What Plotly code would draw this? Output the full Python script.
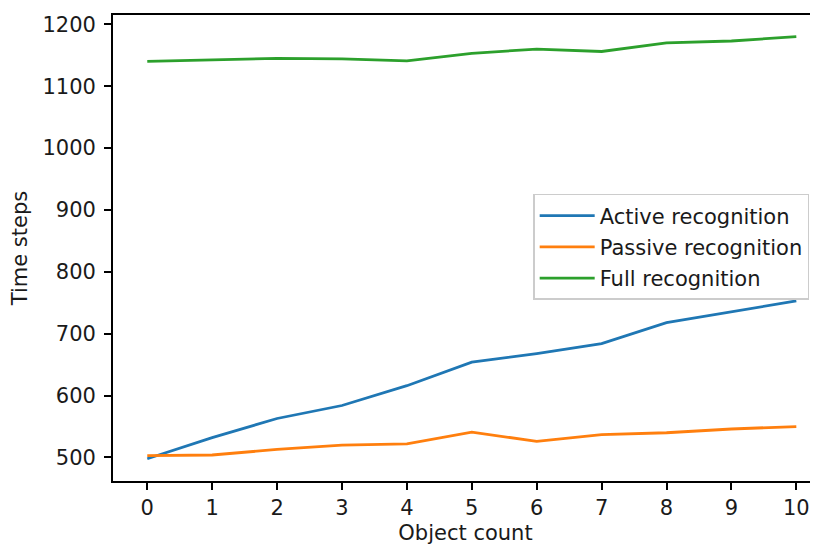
import plotly.graph_objects as go

object_count = [0, 1, 2, 3, 4, 5, 6, 7, 8, 9, 10]
active = [498, 532, 563, 584, 616, 654, 668, 684, 718, 736, 753]
passive = [503, 504, 513, 520, 522, 541, 526, 537, 540, 546, 550]
full = [1140, 1143, 1145, 1144, 1141, 1153, 1160, 1156, 1170, 1173, 1180]
series_names = ["Active recognition", "Passive recognition", "Full recognition"]
series_colors = ["#1f77b4", "#ff7f0e", "#2ca02c"]
y_ticks = [500, 600, 700, 800, 900, 1000, 1100, 1200]

FONT = "DejaVu Sans"
fig = go.Figure()
for i, (name, vals, col) in enumerate(zip(series_names, [active, passive, full], series_colors)):
    fig.add_trace(go.Scatter(x=object_count, y=vals, mode="lines", name=name,
                             line=dict(color=col, width=2.8), legendgroup=f"g{i}"))

axis_common = dict(showline=True, linecolor="black", linewidth=1.7, ticks="outside",
                   ticklen=7, tickwidth=1.7, tickcolor="black", showgrid=False, zeroline=False,
                   tickfont=dict(family=FONT, size=21, color="#1a1a1a"),
                   title_font=dict(family=FONT, size=21, color="#1a1a1a"))

# page body has an 8px margin, so the figure is sized/offset to compensate
fig.update_layout(
    width=810, height=537,
    margin=dict(l=105, r=0, t=7, b=64),
    paper_bgcolor="white", plot_bgcolor="white",
    font=dict(family=FONT, size=21, color="#1a1a1a"),
    xaxis=dict(range=[-0.528, 10.334], tickmode="array", tickvals=object_count,
               mirror=True, title=dict(text="Object count", standoff=8), **axis_common),
    yaxis=dict(range=[462, 1215], tickmode="array", tickvals=y_ticks, ticklabelstandoff=4,
               title=dict(text="Time steps", standoff=10), **axis_common),
    legend=dict(x=0.596, y=0.616, xanchor="left", yanchor="top", itemwidth=55,
                bgcolor="rgba(255,255,255,0.8)", bordercolor="#cccccc", borderwidth=1.5,
                font=dict(family=FONT, size=21, color="#1a1a1a"), tracegroupgap=1),
    showlegend=True,
)

fig.write_html("out.html")
